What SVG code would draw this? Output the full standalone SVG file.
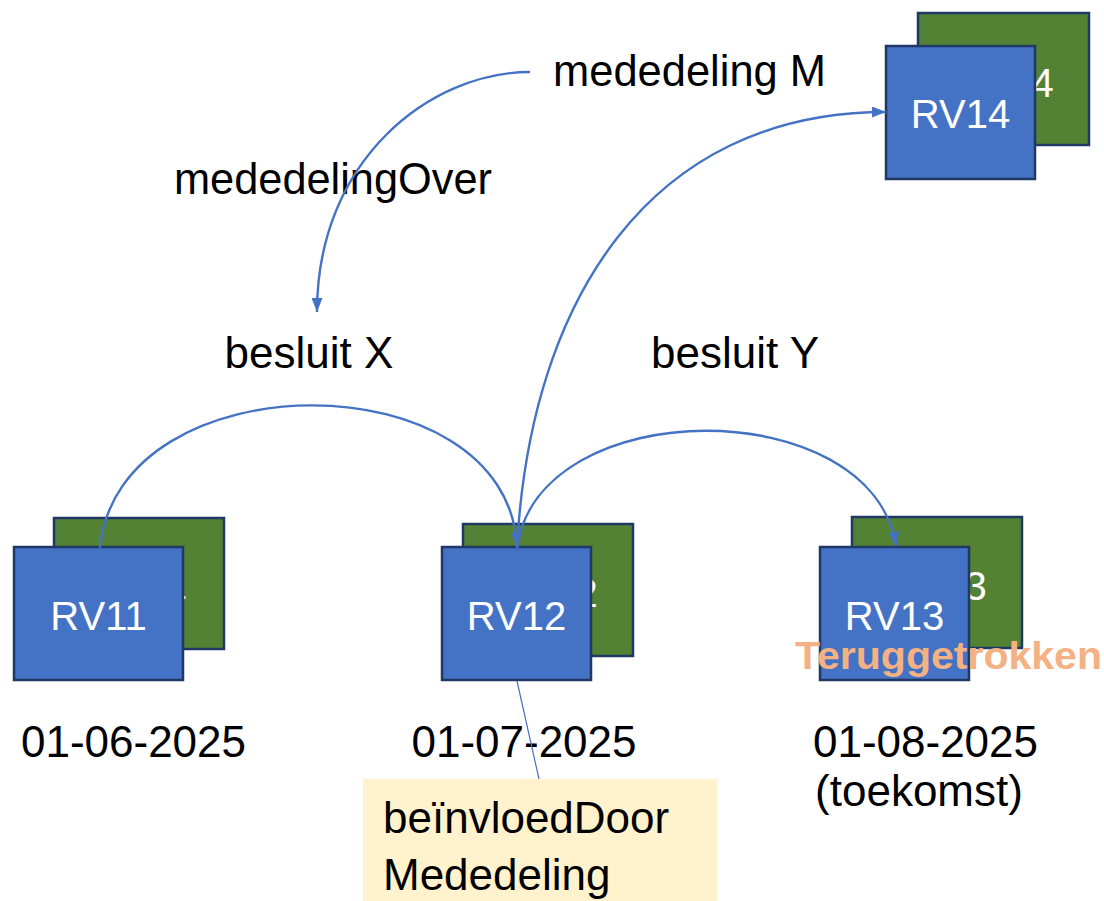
<svg xmlns="http://www.w3.org/2000/svg" width="1104" height="901" viewBox="0 0 1104 901">
<style>
  .blue { fill: #4472C4; stroke: #1F3864; stroke-width: 2.5; }
  .green { fill: #548235; stroke: #1F3864; stroke-width: 2.5; }
  .nt { font-family: "Liberation Sans", Arial, sans-serif; font-size: 40px; fill: #FFFFFF; text-anchor: middle; }
  .lbl { font-family: "Liberation Sans", Arial, sans-serif; font-size: 44px; fill: #000000; }
  .mid { text-anchor: middle; }
  .conn { fill: none; stroke: #4472C4; stroke-width: 2.4; }
  .thin { fill: none; stroke: #4472C4; stroke-width: 1.2; }
</style>
<defs>
  <marker id="arr" viewBox="0 0 14 11" refX="14" refY="5.5" markerWidth="14" markerHeight="11" markerUnits="userSpaceOnUse" orient="auto">
    <path d="M0,0 L14,5.5 L0,11 z" fill="#4472C4"/>
  </marker>
</defs>
<rect x="0" y="0" width="1104" height="901" fill="#FFFFFF"/>

<g id="node-rv11">
  <rect class="green" x="54" y="518" width="170" height="131"/>
  <text class="nt" x="139" y="599">RV11</text>
  <rect class="blue" x="14" y="547" width="169" height="133"/>
  <text class="nt" x="98.5" y="630">RV11</text>
</g>
<g id="node-rv12">
  <rect class="green" x="463" y="524" width="170" height="132"/>
  <text class="nt" x="548" y="607">RV12</text>
  <rect class="blue" x="442" y="547" width="149" height="133"/>
  <text class="nt" x="516.5" y="630">RV12</text>
</g>
<g id="node-rv13">
  <rect class="green" x="852" y="517" width="170" height="131"/>
  <text class="nt" x="937" y="600">RV13</text>
  <rect class="blue" x="820" y="547" width="149" height="133"/>
  <text class="nt" x="894.5" y="630">RV13</text>
</g>
<g id="node-rv14">
  <rect class="green" x="918" y="13" width="171" height="132"/>
  <text class="nt" x="1004" y="97">RV14</text>
  <rect class="blue" x="886" y="46" width="149" height="133"/>
  <text class="nt" x="960.5" y="128">RV14</text>
</g>

<g id="node-mededeling-m"><text class="lbl" x="553" y="86" textLength="273" lengthAdjust="spacingAndGlyphs">mededeling M</text></g>
<g id="label-mededelingover"><text class="lbl" x="174" y="194" textLength="318" lengthAdjust="spacingAndGlyphs">mededelingOver</text></g>
<g id="node-besluit-x"><text class="lbl mid" x="309" y="368">besluit X</text></g>
<g id="node-besluit-y"><text class="lbl mid" x="735" y="368">besluit Y</text></g>
<g id="date-1"><text class="lbl mid" x="133.5" y="757">01-06-2025</text></g>
<g id="date-2"><text class="lbl mid" x="524" y="757">01-07-2025</text></g>
<g id="date-3">
  <text class="lbl mid" x="925.5" y="757">01-08-2025</text>
  <text class="lbl mid" x="919" y="806">(toekomst)</text>
</g>

<g id="connectors">
  <path class="conn" d="M530,72 C430,72 317,160 317,312" marker-end="url(#arr)"/>
  <path class="conn" d="M100,548 C118,358 508,358 517,547" marker-end="url(#arr)"/>
  <path class="conn" d="M517,548 C538,392 872,392 896,546" marker-end="url(#arr)"/>
  <path class="conn" d="M517,548 C530,300 650,112 886,112" marker-end="url(#arr)"/>
  <line class="thin" x1="517" y1="681" x2="539" y2="779"/>
</g>

<g id="note-beinvloed">
  <rect x="363" y="779" width="354" height="122" fill="#FFF2CC"/>
  <text class="lbl" x="383" y="833">beïnvloedDoor</text>
  <text class="lbl" x="383" y="890">Mededeling</text>
</g>

<g id="label-teruggetrokken">
  <text x="795" y="669" font-family="'Liberation Sans', Arial, sans-serif" font-weight="bold" font-size="38" fill="#F4B183" textLength="307" lengthAdjust="spacingAndGlyphs">Teruggetrokken</text>
</g>
</svg>
